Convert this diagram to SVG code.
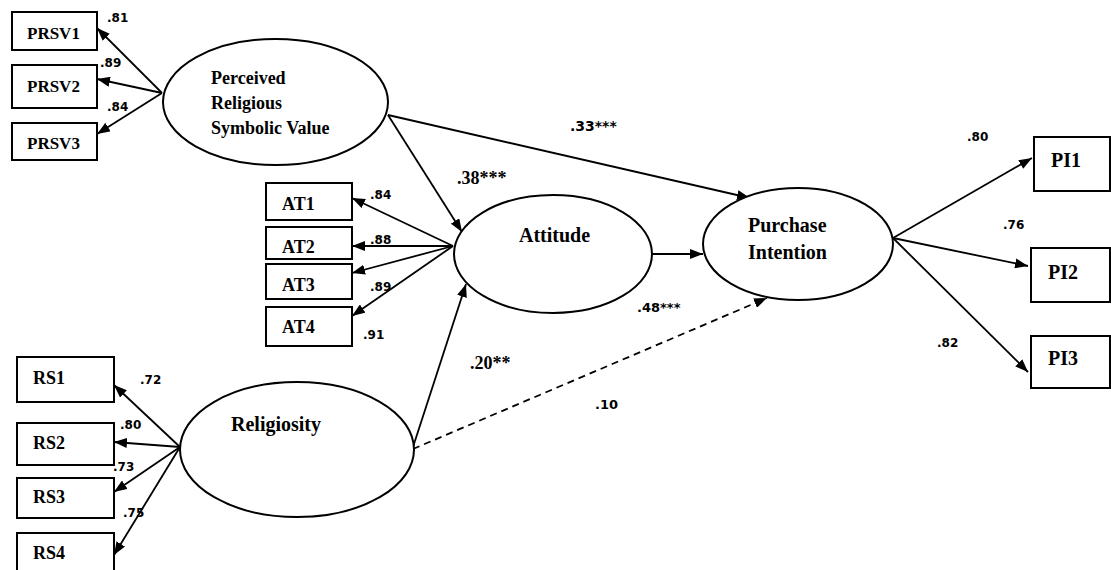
<svg xmlns="http://www.w3.org/2000/svg" width="1111" height="570" viewBox="0 0 1111 570">
<style>
.box{fill:#fff;stroke:#000;stroke-width:2}
.ell{fill:#fff;stroke:#000;stroke-width:2}
.nt{font-family:"Liberation Serif","Times New Roman",serif;font-weight:bold;fill:#000}
.v{font-family:"DejaVu Sans",sans-serif;font-weight:bold;font-size:12px;fill:#000}
.vs{font-family:"Liberation Serif","Times New Roman",serif;font-weight:bold;font-size:18px;fill:#000}
.c{stroke:#000;stroke-width:1.8;fill:none;marker-end:url(#ah)}
.d{stroke-dasharray:7 5}
</style>
<defs>
<marker id="ah" markerUnits="userSpaceOnUse" markerWidth="13" markerHeight="10" refX="13" refY="5" orient="auto">
<path d="M0,0 L13,5 L0,10 z" fill="#000"/>
</marker>
</defs>
<rect width="1111" height="570" fill="#fff"/>
<g id="connectors">
<path class="c" d="M162,93 L97,28"/>
<path class="c" d="M162,93 L97,79"/>
<path class="c" d="M162,93 L97,134"/>
<path class="c" d="M453,246 L352,198"/>
<path class="c" d="M453,246 L352,246"/>
<path class="c" d="M453,246 L352,273"/>
<path class="c" d="M453,246 L352,316"/>
<path class="c" d="M388,115 L462,232"/>
<path class="c" d="M388,115 L750,198"/>
<path class="c" d="M652,254 L703,254"/>
<path class="c" d="M413,447 L466,284"/>
<path class="c d" d="M413,449 L767,298"/>
<path class="c" d="M893,238 L1032,158"/>
<path class="c" d="M893,238 L1028,266"/>
<path class="c" d="M893,238 L1028,372"/>
<path class="c" d="M180,447 L114,385"/>
<path class="c" d="M180,447 L114,442"/>
<path class="c" d="M180,447 L114,492"/>
<path class="c" d="M180,447 L114,555"/>
</g>
<g id="labels">
<text class="v" x="107" y="22">.81</text>
<text class="v" x="100" y="67">.89</text>
<text class="v" x="107" y="111">.84</text>
<text class="v" x="370" y="199">.84</text>
<text class="v" x="370" y="244">.88</text>
<text class="v" x="370" y="291">.89</text>
<text class="v" x="363" y="339">.91</text>
<text class="v" x="140" y="384">.72</text>
<text class="v" x="120" y="429">.80</text>
<text class="v" x="113" y="471">.73</text>
<text class="v" x="123" y="517">.75</text>
<text class="v" x="570" y="131" style="font-size:14px">.33***</text>
<text class="vs" x="457" y="184">.38***</text>
<text class="v" x="637" y="312" style="font-size:13px">.48***</text>
<text class="vs" x="470" y="369">.20**</text>
<text class="v" x="595" y="409" style="font-size:13px">.10</text>
<text class="v" x="967" y="141">.80</text>
<text class="v" x="1003" y="229">.76</text>
<text class="v" x="937" y="347">.82</text>
</g>
<g id="PRSV1"><rect class="box" x="12" y="12" width="85" height="38"/><text class="nt" x="27" y="39" font-size="17">PRSV1</text></g>
<g id="PRSV2"><rect class="box" x="12" y="65" width="85" height="43"/><text class="nt" x="27" y="92" font-size="17">PRSV2</text></g>
<g id="PRSV3"><rect class="box" x="12" y="123" width="85" height="37"/><text class="nt" x="27" y="149" font-size="17">PRSV3</text></g>
<g id="PRSV"><ellipse class="ell" cx="275.5" cy="102" rx="112.5" ry="63"/>
<text class="nt" font-size="18"><tspan x="211" y="84">Perceived</tspan><tspan x="211" y="109">Religious</tspan><tspan x="211" y="134">Symbolic Value</tspan></text></g>
<g id="AT1"><rect class="box" x="266" y="183" width="86" height="37"/><text class="nt" x="282" y="210" font-size="18">AT1</text></g>
<g id="AT2"><rect class="box" x="266" y="227" width="86" height="32"/><text class="nt" x="282" y="253" font-size="18">AT2</text></g>
<g id="AT3"><rect class="box" x="266" y="264" width="86" height="35"/><text class="nt" x="282" y="291" font-size="18">AT3</text></g>
<g id="AT4"><rect class="box" x="266" y="307" width="86" height="39"/><text class="nt" x="282" y="333" font-size="18">AT4</text></g>
<g id="Attitude"><ellipse class="ell" cx="553" cy="254" rx="99" ry="59"/><text class="nt" x="519" y="242" font-size="20">Attitude</text></g>
<g id="PurchaseIntention"><ellipse class="ell" cx="798" cy="244" rx="95" ry="56"/>
<text class="nt" font-size="20"><tspan x="748" y="232">Purchase</tspan><tspan x="748" y="259">Intention</tspan></text></g>
<g id="Religiosity"><ellipse class="ell" cx="297" cy="449.5" rx="117" ry="67.5"/><text class="nt" x="231" y="431" font-size="20">Religiosity</text></g>
<g id="RS1"><rect class="box" x="17" y="357" width="97" height="45"/><text class="nt" x="33" y="384" font-size="18">RS1</text></g>
<g id="RS2"><rect class="box" x="17" y="423" width="97" height="42"/><text class="nt" x="33" y="449" font-size="18">RS2</text></g>
<g id="RS3"><rect class="box" x="17" y="478" width="97" height="40"/><text class="nt" x="33" y="503" font-size="18">RS3</text></g>
<g id="RS4"><rect class="box" x="17" y="533" width="97" height="45"/><text class="nt" x="33" y="559" font-size="18">RS4</text></g>
<g id="PI1"><rect class="box" x="1034" y="137" width="76" height="54"/><text class="nt" x="1051" y="167" font-size="20">PI1</text></g>
<g id="PI2"><rect class="box" x="1031" y="248" width="79" height="54"/><text class="nt" x="1048" y="279" font-size="20">PI2</text></g>
<g id="PI3"><rect class="box" x="1031" y="336" width="79" height="52"/><text class="nt" x="1048" y="365" font-size="20">PI3</text></g>
</svg>
